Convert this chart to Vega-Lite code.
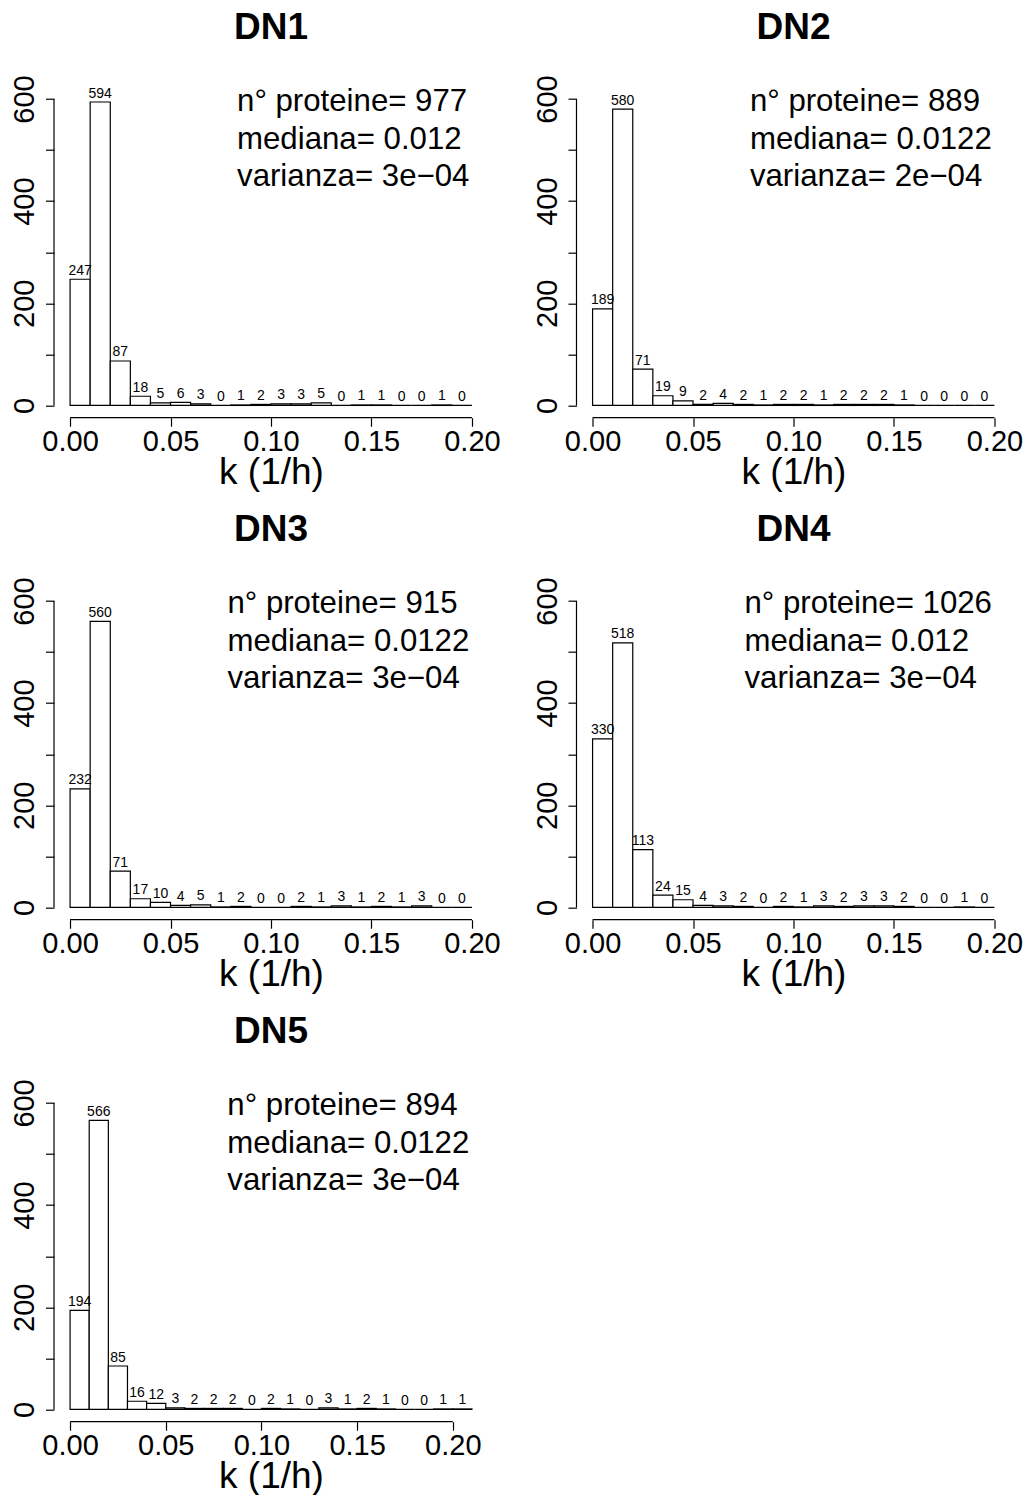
{
"$schema": "https://vega.github.io/schema/vega-lite/v6.json",
"padding": {"left": 10, "top": 8.7, "right": 0, "bottom": 0},
"background": "white",
"data": {"values": [
{"panel":"DN1","start":0,"end":0.01,"mid":0.005,"count":247},
{"panel":"DN1","start":0.01,"end":0.02,"mid":0.015,"count":594},
{"panel":"DN1","start":0.02,"end":0.03,"mid":0.025,"count":87},
{"panel":"DN1","start":0.03,"end":0.04,"mid":0.035,"count":18},
{"panel":"DN1","start":0.04,"end":0.05,"mid":0.045,"count":5},
{"panel":"DN1","start":0.05,"end":0.06,"mid":0.055,"count":6},
{"panel":"DN1","start":0.06,"end":0.07,"mid":0.065,"count":3},
{"panel":"DN1","start":0.07,"end":0.08,"mid":0.075,"count":0},
{"panel":"DN1","start":0.08,"end":0.09,"mid":0.085,"count":1},
{"panel":"DN1","start":0.09,"end":0.1,"mid":0.095,"count":2},
{"panel":"DN1","start":0.1,"end":0.11,"mid":0.105,"count":3},
{"panel":"DN1","start":0.11,"end":0.12,"mid":0.115,"count":3},
{"panel":"DN1","start":0.12,"end":0.13,"mid":0.125,"count":5},
{"panel":"DN1","start":0.13,"end":0.14,"mid":0.135,"count":0},
{"panel":"DN1","start":0.14,"end":0.15,"mid":0.145,"count":1},
{"panel":"DN1","start":0.15,"end":0.16,"mid":0.155,"count":1},
{"panel":"DN1","start":0.16,"end":0.17,"mid":0.165,"count":0},
{"panel":"DN1","start":0.17,"end":0.18,"mid":0.175,"count":0},
{"panel":"DN1","start":0.18,"end":0.19,"mid":0.185,"count":1},
{"panel":"DN1","start":0.19,"end":0.2,"mid":0.195,"count":0},
{"panel":"DN2","start":0,"end":0.01,"mid":0.005,"count":189},
{"panel":"DN2","start":0.01,"end":0.02,"mid":0.015,"count":580},
{"panel":"DN2","start":0.02,"end":0.03,"mid":0.025,"count":71},
{"panel":"DN2","start":0.03,"end":0.04,"mid":0.035,"count":19},
{"panel":"DN2","start":0.04,"end":0.05,"mid":0.045,"count":9},
{"panel":"DN2","start":0.05,"end":0.06,"mid":0.055,"count":2},
{"panel":"DN2","start":0.06,"end":0.07,"mid":0.065,"count":4},
{"panel":"DN2","start":0.07,"end":0.08,"mid":0.075,"count":2},
{"panel":"DN2","start":0.08,"end":0.09,"mid":0.085,"count":1},
{"panel":"DN2","start":0.09,"end":0.1,"mid":0.095,"count":2},
{"panel":"DN2","start":0.1,"end":0.11,"mid":0.105,"count":2},
{"panel":"DN2","start":0.11,"end":0.12,"mid":0.115,"count":1},
{"panel":"DN2","start":0.12,"end":0.13,"mid":0.125,"count":2},
{"panel":"DN2","start":0.13,"end":0.14,"mid":0.135,"count":2},
{"panel":"DN2","start":0.14,"end":0.15,"mid":0.145,"count":2},
{"panel":"DN2","start":0.15,"end":0.16,"mid":0.155,"count":1},
{"panel":"DN2","start":0.16,"end":0.17,"mid":0.165,"count":0},
{"panel":"DN2","start":0.17,"end":0.18,"mid":0.175,"count":0},
{"panel":"DN2","start":0.18,"end":0.19,"mid":0.185,"count":0},
{"panel":"DN2","start":0.19,"end":0.2,"mid":0.195,"count":0},
{"panel":"DN3","start":0,"end":0.01,"mid":0.005,"count":232},
{"panel":"DN3","start":0.01,"end":0.02,"mid":0.015,"count":560},
{"panel":"DN3","start":0.02,"end":0.03,"mid":0.025,"count":71},
{"panel":"DN3","start":0.03,"end":0.04,"mid":0.035,"count":17},
{"panel":"DN3","start":0.04,"end":0.05,"mid":0.045,"count":10},
{"panel":"DN3","start":0.05,"end":0.06,"mid":0.055,"count":4},
{"panel":"DN3","start":0.06,"end":0.07,"mid":0.065,"count":5},
{"panel":"DN3","start":0.07,"end":0.08,"mid":0.075,"count":1},
{"panel":"DN3","start":0.08,"end":0.09,"mid":0.085,"count":2},
{"panel":"DN3","start":0.09,"end":0.1,"mid":0.095,"count":0},
{"panel":"DN3","start":0.1,"end":0.11,"mid":0.105,"count":0},
{"panel":"DN3","start":0.11,"end":0.12,"mid":0.115,"count":2},
{"panel":"DN3","start":0.12,"end":0.13,"mid":0.125,"count":1},
{"panel":"DN3","start":0.13,"end":0.14,"mid":0.135,"count":3},
{"panel":"DN3","start":0.14,"end":0.15,"mid":0.145,"count":1},
{"panel":"DN3","start":0.15,"end":0.16,"mid":0.155,"count":2},
{"panel":"DN3","start":0.16,"end":0.17,"mid":0.165,"count":1},
{"panel":"DN3","start":0.17,"end":0.18,"mid":0.175,"count":3},
{"panel":"DN3","start":0.18,"end":0.19,"mid":0.185,"count":0},
{"panel":"DN3","start":0.19,"end":0.2,"mid":0.195,"count":0},
{"panel":"DN4","start":0,"end":0.01,"mid":0.005,"count":330},
{"panel":"DN4","start":0.01,"end":0.02,"mid":0.015,"count":518},
{"panel":"DN4","start":0.02,"end":0.03,"mid":0.025,"count":113},
{"panel":"DN4","start":0.03,"end":0.04,"mid":0.035,"count":24},
{"panel":"DN4","start":0.04,"end":0.05,"mid":0.045,"count":15},
{"panel":"DN4","start":0.05,"end":0.06,"mid":0.055,"count":4},
{"panel":"DN4","start":0.06,"end":0.07,"mid":0.065,"count":3},
{"panel":"DN4","start":0.07,"end":0.08,"mid":0.075,"count":2},
{"panel":"DN4","start":0.08,"end":0.09,"mid":0.085,"count":0},
{"panel":"DN4","start":0.09,"end":0.1,"mid":0.095,"count":2},
{"panel":"DN4","start":0.1,"end":0.11,"mid":0.105,"count":1},
{"panel":"DN4","start":0.11,"end":0.12,"mid":0.115,"count":3},
{"panel":"DN4","start":0.12,"end":0.13,"mid":0.125,"count":2},
{"panel":"DN4","start":0.13,"end":0.14,"mid":0.135,"count":3},
{"panel":"DN4","start":0.14,"end":0.15,"mid":0.145,"count":3},
{"panel":"DN4","start":0.15,"end":0.16,"mid":0.155,"count":2},
{"panel":"DN4","start":0.16,"end":0.17,"mid":0.165,"count":0},
{"panel":"DN4","start":0.17,"end":0.18,"mid":0.175,"count":0},
{"panel":"DN4","start":0.18,"end":0.19,"mid":0.185,"count":1},
{"panel":"DN4","start":0.19,"end":0.2,"mid":0.195,"count":0},
{"panel":"DN5","start":0,"end":0.01,"mid":0.005,"count":194},
{"panel":"DN5","start":0.01,"end":0.02,"mid":0.015,"count":566},
{"panel":"DN5","start":0.02,"end":0.03,"mid":0.025,"count":85},
{"panel":"DN5","start":0.03,"end":0.04,"mid":0.035,"count":16},
{"panel":"DN5","start":0.04,"end":0.05,"mid":0.045,"count":12},
{"panel":"DN5","start":0.05,"end":0.06,"mid":0.055,"count":3},
{"panel":"DN5","start":0.06,"end":0.07,"mid":0.065,"count":2},
{"panel":"DN5","start":0.07,"end":0.08,"mid":0.075,"count":2},
{"panel":"DN5","start":0.08,"end":0.09,"mid":0.085,"count":2},
{"panel":"DN5","start":0.09,"end":0.1,"mid":0.095,"count":0},
{"panel":"DN5","start":0.1,"end":0.11,"mid":0.105,"count":2},
{"panel":"DN5","start":0.11,"end":0.12,"mid":0.115,"count":1},
{"panel":"DN5","start":0.12,"end":0.13,"mid":0.125,"count":0},
{"panel":"DN5","start":0.13,"end":0.14,"mid":0.135,"count":3},
{"panel":"DN5","start":0.14,"end":0.15,"mid":0.145,"count":1},
{"panel":"DN5","start":0.15,"end":0.16,"mid":0.155,"count":2},
{"panel":"DN5","start":0.16,"end":0.17,"mid":0.165,"count":1},
{"panel":"DN5","start":0.17,"end":0.18,"mid":0.175,"count":0},
{"panel":"DN5","start":0.18,"end":0.19,"mid":0.185,"count":0},
{"panel":"DN5","start":0.19,"end":0.2,"mid":0.195,"count":1},
{"panel":"DN5","start":0.2,"end":0.21,"mid":0.205,"count":1}
]},
"columns": 2,
"bounds": "flush",
"spacing": {"row": 171, "column": 88.5},
"concat": [
{
 "width": 434, "height": 331,
 "title": {"text": "DN1"},
 "layer": [
  {"transform": [{"filter": "datum.panel === 'DN1'"}],
   "mark": {"type": "bar", "fill": "white", "stroke": "black", "strokeWidth": 1.2},
   "encoding": {
    "x": {"field": "start", "type": "quantitative", "scale": {"domain": [-0.008, 0.208], "nice": false, "zero": false}, "title": "k (1/h)", "axis": {"values": [0, 0.05, 0.1, 0.15, 0.2], "format": ".2f"}},
    "x2": {"field": "end"},
    "y": {"field": "count", "type": "quantitative", "scale": {"domain": [-24, 624], "nice": false, "zero": false}, "title": null, "axis": {"values": [0, 100, 200, 300, 400, 500, 600], "labelExpr": "datum.value % 200 == 0 ? datum.label : ''"}},
    "y2": {"datum": 0}}},
  {"transform": [{"filter": "datum.panel === 'DN1'"}],
   "mark": {"type": "text", "fontSize": 14, "baseline": "alphabetic", "dy": -4.5, "color": "black"},
   "encoding": {
    "x": {"field": "mid", "type": "quantitative", "title": "k (1/h)"},
    "y": {"field": "count", "type": "quantitative", "title": null},
    "text": {"field": "count", "type": "quantitative", "format": "d"}}},
  {"data": {"values": [{}]}, "mark": {"type": "rule", "strokeWidth": 1.2, "color": "black"},
   "encoding": {"x": {"datum": 0}, "x2": {"datum": 0.2}, "y": {"datum": -24}}},
  {"data": {"values": [{}]}, "mark": {"type": "rule", "strokeWidth": 1.2, "color": "black"},
   "encoding": {"x": {"datum": -0.008}, "y": {"datum": 0}, "y2": {"datum": 600}}},
  {"data": {"values": [{}]}, "mark": {"type": "text", "fontSize": 31.2, "align": "left", "baseline": "alphabetic", "lineHeight": 37.5, "color": "black"},
   "encoding": {"x": {"datum": 0.0831}, "y": {"datum": 575.9}, "text": {"value": ["n° proteine= 977", "mediana= 0.012", "varianza= 3e−04"]}}}
 ]
},
{
 "width": 434, "height": 331,
 "title": {"text": "DN2"},
 "layer": [
  {"transform": [{"filter": "datum.panel === 'DN2'"}],
   "mark": {"type": "bar", "fill": "white", "stroke": "black", "strokeWidth": 1.2},
   "encoding": {
    "x": {"field": "start", "type": "quantitative", "scale": {"domain": [-0.008, 0.208], "nice": false, "zero": false}, "title": "k (1/h)", "axis": {"values": [0, 0.05, 0.1, 0.15, 0.2], "format": ".2f"}},
    "x2": {"field": "end"},
    "y": {"field": "count", "type": "quantitative", "scale": {"domain": [-24, 624], "nice": false, "zero": false}, "title": null, "axis": {"values": [0, 100, 200, 300, 400, 500, 600], "labelExpr": "datum.value % 200 == 0 ? datum.label : ''"}},
    "y2": {"datum": 0}}},
  {"transform": [{"filter": "datum.panel === 'DN2'"}],
   "mark": {"type": "text", "fontSize": 14, "baseline": "alphabetic", "dy": -4.5, "color": "black"},
   "encoding": {
    "x": {"field": "mid", "type": "quantitative", "title": "k (1/h)"},
    "y": {"field": "count", "type": "quantitative", "title": null},
    "text": {"field": "count", "type": "quantitative", "format": "d"}}},
  {"data": {"values": [{}]}, "mark": {"type": "rule", "strokeWidth": 1.2, "color": "black"},
   "encoding": {"x": {"datum": 0}, "x2": {"datum": 0.2}, "y": {"datum": -24}}},
  {"data": {"values": [{}]}, "mark": {"type": "rule", "strokeWidth": 1.2, "color": "black"},
   "encoding": {"x": {"datum": -0.008}, "y": {"datum": 0}, "y2": {"datum": 600}}},
  {"data": {"values": [{}]}, "mark": {"type": "text", "fontSize": 31.2, "align": "left", "baseline": "alphabetic", "lineHeight": 37.5, "color": "black"},
   "encoding": {"x": {"datum": 0.0783}, "y": {"datum": 575.9}, "text": {"value": ["n° proteine= 889", "mediana= 0.0122", "varianza= 2e−04"]}}}
 ]
},
{
 "width": 434, "height": 331,
 "title": {"text": "DN3"},
 "layer": [
  {"transform": [{"filter": "datum.panel === 'DN3'"}],
   "mark": {"type": "bar", "fill": "white", "stroke": "black", "strokeWidth": 1.2},
   "encoding": {
    "x": {"field": "start", "type": "quantitative", "scale": {"domain": [-0.008, 0.208], "nice": false, "zero": false}, "title": "k (1/h)", "axis": {"values": [0, 0.05, 0.1, 0.15, 0.2], "format": ".2f"}},
    "x2": {"field": "end"},
    "y": {"field": "count", "type": "quantitative", "scale": {"domain": [-24, 624], "nice": false, "zero": false}, "title": null, "axis": {"values": [0, 100, 200, 300, 400, 500, 600], "labelExpr": "datum.value % 200 == 0 ? datum.label : ''"}},
    "y2": {"datum": 0}}},
  {"transform": [{"filter": "datum.panel === 'DN3'"}],
   "mark": {"type": "text", "fontSize": 14, "baseline": "alphabetic", "dy": -4.5, "color": "black"},
   "encoding": {
    "x": {"field": "mid", "type": "quantitative", "title": "k (1/h)"},
    "y": {"field": "count", "type": "quantitative", "title": null},
    "text": {"field": "count", "type": "quantitative", "format": "d"}}},
  {"data": {"values": [{}]}, "mark": {"type": "rule", "strokeWidth": 1.2, "color": "black"},
   "encoding": {"x": {"datum": 0}, "x2": {"datum": 0.2}, "y": {"datum": -24}}},
  {"data": {"values": [{}]}, "mark": {"type": "rule", "strokeWidth": 1.2, "color": "black"},
   "encoding": {"x": {"datum": -0.008}, "y": {"datum": 0}, "y2": {"datum": 600}}},
  {"data": {"values": [{}]}, "mark": {"type": "text", "fontSize": 31.2, "align": "left", "baseline": "alphabetic", "lineHeight": 37.5, "color": "black"},
   "encoding": {"x": {"datum": 0.0783}, "y": {"datum": 575.9}, "text": {"value": ["n° proteine= 915", "mediana= 0.0122", "varianza= 3e−04"]}}}
 ]
},
{
 "width": 434, "height": 331,
 "title": {"text": "DN4"},
 "layer": [
  {"transform": [{"filter": "datum.panel === 'DN4'"}],
   "mark": {"type": "bar", "fill": "white", "stroke": "black", "strokeWidth": 1.2},
   "encoding": {
    "x": {"field": "start", "type": "quantitative", "scale": {"domain": [-0.008, 0.208], "nice": false, "zero": false}, "title": "k (1/h)", "axis": {"values": [0, 0.05, 0.1, 0.15, 0.2], "format": ".2f"}},
    "x2": {"field": "end"},
    "y": {"field": "count", "type": "quantitative", "scale": {"domain": [-24, 624], "nice": false, "zero": false}, "title": null, "axis": {"values": [0, 100, 200, 300, 400, 500, 600], "labelExpr": "datum.value % 200 == 0 ? datum.label : ''"}},
    "y2": {"datum": 0}}},
  {"transform": [{"filter": "datum.panel === 'DN4'"}],
   "mark": {"type": "text", "fontSize": 14, "baseline": "alphabetic", "dy": -4.5, "color": "black"},
   "encoding": {
    "x": {"field": "mid", "type": "quantitative", "title": "k (1/h)"},
    "y": {"field": "count", "type": "quantitative", "title": null},
    "text": {"field": "count", "type": "quantitative", "format": "d"}}},
  {"data": {"values": [{}]}, "mark": {"type": "rule", "strokeWidth": 1.2, "color": "black"},
   "encoding": {"x": {"datum": 0}, "x2": {"datum": 0.2}, "y": {"datum": -24}}},
  {"data": {"values": [{}]}, "mark": {"type": "rule", "strokeWidth": 1.2, "color": "black"},
   "encoding": {"x": {"datum": -0.008}, "y": {"datum": 0}, "y2": {"datum": 600}}},
  {"data": {"values": [{}]}, "mark": {"type": "text", "fontSize": 31.2, "align": "left", "baseline": "alphabetic", "lineHeight": 37.5, "color": "black"},
   "encoding": {"x": {"datum": 0.0756}, "y": {"datum": 575.9}, "text": {"value": ["n° proteine= 1026", "mediana= 0.012", "varianza= 3e−04"]}}}
 ]
},
{
 "width": 434, "height": 331,
 "title": {"text": "DN5"},
 "layer": [
  {"transform": [{"filter": "datum.panel === 'DN5'"}],
   "mark": {"type": "bar", "fill": "white", "stroke": "black", "strokeWidth": 1.2},
   "encoding": {
    "x": {"field": "start", "type": "quantitative", "scale": {"domain": [-0.0084, 0.2184], "nice": false, "zero": false}, "title": "k (1/h)", "axis": {"values": [0, 0.05, 0.1, 0.15, 0.2], "format": ".2f"}},
    "x2": {"field": "end"},
    "y": {"field": "count", "type": "quantitative", "scale": {"domain": [-24, 624], "nice": false, "zero": false}, "title": null, "axis": {"values": [0, 100, 200, 300, 400, 500, 600], "labelExpr": "datum.value % 200 == 0 ? datum.label : ''"}},
    "y2": {"datum": 0}}},
  {"transform": [{"filter": "datum.panel === 'DN5'"}],
   "mark": {"type": "text", "fontSize": 14, "baseline": "alphabetic", "dy": -4.5, "color": "black"},
   "encoding": {
    "x": {"field": "mid", "type": "quantitative", "title": "k (1/h)"},
    "y": {"field": "count", "type": "quantitative", "title": null},
    "text": {"field": "count", "type": "quantitative", "format": "d"}}},
  {"data": {"values": [{}]}, "mark": {"type": "rule", "strokeWidth": 1.2, "color": "black"},
   "encoding": {"x": {"datum": 0}, "x2": {"datum": 0.2}, "y": {"datum": -24}}},
  {"data": {"values": [{}]}, "mark": {"type": "rule", "strokeWidth": 1.2, "color": "black"},
   "encoding": {"x": {"datum": -0.0084}, "y": {"datum": 0}, "y2": {"datum": 600}}},
  {"data": {"values": [{}]}, "mark": {"type": "text", "fontSize": 31.2, "align": "left", "baseline": "alphabetic", "lineHeight": 37.5, "color": "black"},
   "encoding": {"x": {"datum": 0.0822}, "y": {"datum": 575.9}, "text": {"value": ["n° proteine= 894", "mediana= 0.0122", "varianza= 3e−04"]}}}
 ]
}
],
"config": {
 "font": "Liberation Sans",
 "view": {"stroke": null},
 "title": {"fontSize": 37, "fontWeight": "bold", "color": "black", "anchor": "middle", "frame": "group", "baseline": "alphabetic", "offset": 28},
 "axis": {"domain": false, "grid": false, "tickColor": "black", "tickWidth": 1.2, "tickSize": 8.5, "labelColor": "black", "labelFontSize": 29, "labelFlush": false, "labelOverlap": false, "titleColor": "black"},
 "axisX": {"labelPadding": 24, "labelBaseline": "alphabetic", "titleFontSize": 37, "titleFontWeight": "normal", "titleY": 66, "titleBaseline": "alphabetic"},
 "axisY": {"labelAngle": 270, "labelAlign": "center", "labelBaseline": "alphabetic", "labelPadding": 11.8}
}
}
